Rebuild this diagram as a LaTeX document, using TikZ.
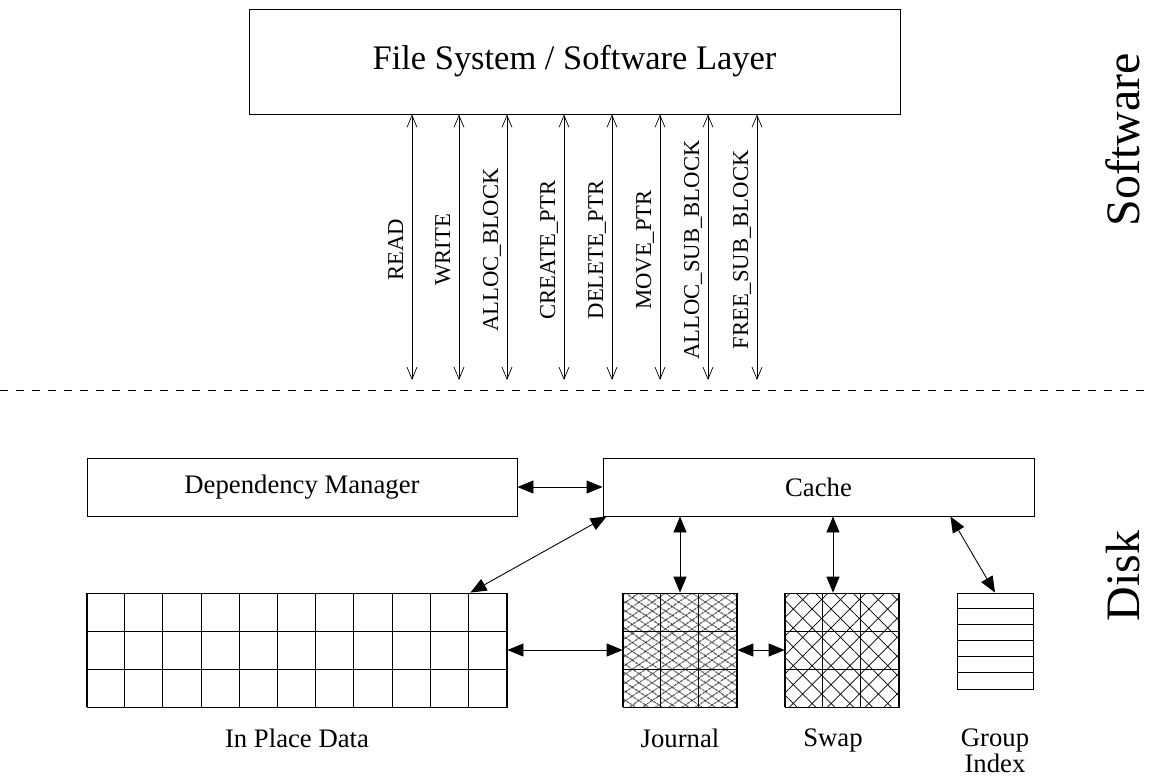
\documentclass[tikz,border=0pt]{standalone}
\usepackage{fontspec}
\setmainfont{Liberation Serif}
\usetikzlibrary{arrows.meta,patterns.meta,positioning,calc}
\newcommand\opfont{\fontsize{12.9}{15}\selectfont}
\newcommand\unitfont{\fontsize{15.2}{14.8}\selectfont}
\newcommand\layerfont{\fontsize{19.6}{23}\selectfont}
\newcommand\regionfont{\fontsize{27.3}{32}\selectfont}
\begin{document}
\begin{tikzpicture}[
    box/.style={rectangle,draw,line width=0.5pt,inner sep=0pt},
    op/.style={{Straight Barb[length=0.24cm,width=0.2cm]}-{Straight Barb[length=0.24cm,width=0.2cm]},line width=0.4pt},
    link/.style={{Triangle[length=0.32cm,width=0.26cm]}-{Triangle[length=0.32cm,width=0.26cm]},line width=0.5pt},
    oplabel/.style={rotate=90,anchor=base,font=\opfont,inner sep=0pt},
    journalfill/.style={pattern={Lines[angle=34,distance=4pt,line width=0.4pt]},
        preaction={pattern={Lines[angle=-34,distance=4pt,line width=0.4pt]}}},
    swapfill/.style={pattern={Lines[angle=45,distance=7.6pt,line width=0.4pt]},
        preaction={pattern={Lines[angle=-45,distance=7.6pt,line width=0.4pt]}}}
]
\useasboundingbox (0,0) rectangle (22.98,-15.58);
% software side
\node[box,minimum width=13.02cm,minimum height=2.10cm,font=\layerfont] (FS) at (11.49,-1.23) {File System / Software Layer};
\foreach \x/\lab [count=\i] in {8.24/READ,9.18/WRITE,10.14/ALLOC\_BLOCK,11.28/CREATE\_PTR,12.24/DELETE\_PTR,13.20/MOVE\_PTR,14.16/ALLOC\_SUB\_BLOCK,15.14/FREE\_SUB\_BLOCK}{
    \coordinate (e\i) at (\x,-7.60);
    \draw[op] (FS.south -| e\i) -- (e\i);
    \node[oplabel] (op\i) at ($(e\i)+(-0.18,2.60)$) {\lab};
}
\node[rotate=90,font=\regionfont] (sw) at (22.46,-2.80) {Software};
% boundary
\coordinate (dl) at (0,-7.80);\coordinate (dr) at (22.98,-7.80);
\draw[line width=0.4pt,dash pattern=on 0.16cm off 0.16cm] (dl) -- (dr);
% disk side
\node[box,minimum width=8.60cm,minimum height=1.16cm,font=\unitfont] (DM) at (6.04,-9.74) {Dependency Manager};
\node[box,minimum width=8.62cm,minimum height=1.16cm,font=\unitfont] (cache) at (16.37,-9.74) {Cache};
\node[box,minimum width=8.40cm,minimum height=2.28cm] (data) at (5.94,-13.00) {};
\node[box,journalfill,minimum width=2.28cm,minimum height=2.28cm] (journal) at (13.60,-13.00) {};
\node[box,swapfill,minimum width=2.28cm,minimum height=2.28cm] (swap) at (16.84,-13.00) {};
\node[box,minimum width=1.52cm,minimum height=1.92cm] (GI) at (19.90,-12.82) {};
\begin{scope}[shift={(data.south west)}]
    \draw[line width=0.5pt] (0,0) grid[xstep=0.7636,ystep=0.76] (8.40,2.28);
\end{scope}
\begin{scope}[shift={(journal.south west)}]
    \draw[line width=0.5pt] (0,0) grid[step=0.76] (2.28,2.28);
\end{scope}
\begin{scope}[shift={(swap.south west)}]
    \draw[line width=0.5pt] (0,0) grid[step=0.76] (2.28,2.28);
\end{scope}
\foreach \k in {1,...,5}
    \draw[line width=0.5pt] ($(GI.north west)+(0,-0.32*\k)$) -- ($(GI.north east)+(0,-0.32*\k)$);
\node[font=\unitfont,below=0.3cm of data] (datalab) {In Place Data};
\node[font=\unitfont,below=0.3cm of journal] (journallab) {Journal};
\coordinate (swaptop) at ([xshift=-0.18cm]swap.north);
\node[font=\unitfont,anchor=north] (swaplab) at (swaptop |- datalab.north) {Swap};
\node[font=\unitfont,align=center,anchor=north] (GIlab) at (GI.south |- datalab.north) {Group\\Index};
\node[rotate=90,font=\regionfont] (dk) at (22.46,-11.52) {Disk};
% connections
\draw[link] (DM.east) -- (cache.west);
\draw[link] ([xshift=0.08cm]cache.south west) -- ([xshift=-0.74cm]data.north east);
\draw[link] (cache.south -| journal.north) -- (journal.north);
\draw[link] (cache.south -| swaptop) -- (swaptop);
\draw[link] ([xshift=-1.68cm]cache.south east) -- (GI.north);
\draw[link] (data.east) -- (journal.west);
\draw[link] (journal.east) -- (swap.west);
\end{tikzpicture}
\end{document}
